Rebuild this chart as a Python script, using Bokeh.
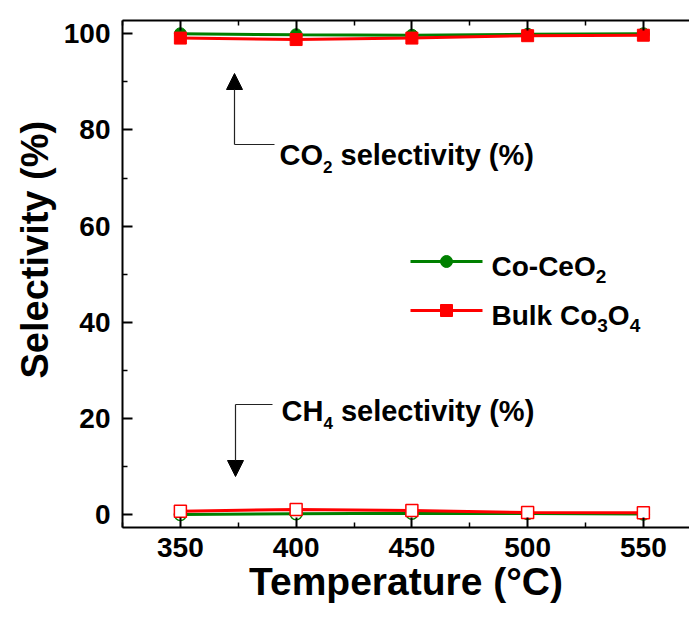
from bokeh.plotting import figure
from bokeh.models import Range1d, LinearAxis, Label, Arrow, NormalHead, FixedTicker, Title
from bokeh.embed import file_html
from bokeh.resources import INLINE

# ---------------- data ----------------
temperature = [350, 400, 450, 500, 550]
co_ceo2_co2 = [100.0, 99.8, 99.7, 99.9, 100.0]
bulk_co3o4_co2 = [99.1, 98.8, 99.1, 99.6, 99.7]
co_ceo2_ch4 = [0.05, 0.2, 0.3, 0.25, 0.15]
bulk_co3o4_ch4 = [0.75, 1.1, 0.9, 0.45, 0.4]
x_ticks = [350, 400, 450, 500, 550]
x_minor = [325, 375, 425, 475, 525, 575]
y_ticks = [0, 20, 40, 60, 80, 100]
y_minor = [10, 30, 50, 70, 90]

GREEN = "#008000"
RED = "#ff0000"
FONT = "Liberation Sans"

# ---------------- layout ----------------
W, H = 689, 620
FL, FT, FR, FB = 122, 20, 0, 93
fw = W - FL - FR
fh = H - FT - FB
SX = 2.315   # px per degree
SY = 4.81    # px per percent
X0 = 325.0
X1 = X0 + fw / SX
Y1 = 102.76
Y0 = Y1 - fh / SY
TXT_SHIFT = -9  # baseline correction for labels


def dx(px):
    return X0 + (px - FL) / SX


def dy(py):
    return Y1 - (py - FT) / SY


p = figure(width=W, height=H, x_range=Range1d(X0, X1), y_range=Range1d(Y0, Y1),
           output_backend="svg", toolbar_location=None,
           min_border_left=FL, min_border_right=FR, min_border_top=FT, min_border_bottom=FB)
p.grid.visible = False
p.outline_line_color = None
p.background_fill_color = "white"
p.border_fill_color = "white"

xb = p.xaxis[0]
yl = p.yaxis[0]
xb.ticker = FixedTicker(ticks=x_ticks, minor_ticks=x_minor)
yl.ticker = FixedTicker(ticks=y_ticks, minor_ticks=y_minor)

top = LinearAxis(ticker=FixedTicker(ticks=x_ticks, minor_ticks=x_minor))
top.major_label_overrides = {t: "" for t in x_ticks}
top.major_label_text_font_size = "8px"
top.major_label_standoff = 0
p.add_layout(top, "above")

for ax in [xb, yl, top]:
    ax.axis_line_width = 2
    ax.axis_line_color = "black"
    ax.major_tick_in = 10
    ax.major_tick_out = 0
    ax.minor_tick_in = 5
    ax.minor_tick_out = 0
    ax.major_tick_line_width = 2
    ax.minor_tick_line_width = 1.5
    ax.major_tick_line_color = "black"
    ax.minor_tick_line_color = "black"

for ax in [xb, yl]:
    ax.major_label_text_font = FONT
    ax.major_label_text_font_style = "bold"
    ax.major_label_text_font_size = "28px"
    ax.major_label_text_color = "black"
yl.major_label_standoff = 12
xb.major_label_standoff = 10

xb.axis_label = "Temperature (°C)"
xb.axis_label_text_font = FONT
xb.axis_label_text_font_style = "bold"
xb.axis_label_text_font_size = "39px"
xb.axis_label_text_color = "black"
xb.axis_label_standoff = 0

p.add_layout(Title(text="Selectivity (%)", align="left", offset=149, standoff=10,
                   text_font=FONT, text_font_style="bold", text_font_size="38px",
                   text_color="black"), "left")

# ---------------- series ----------------
p.line(temperature, co_ceo2_co2, line_color=GREEN, line_width=3)
p.scatter(temperature, co_ceo2_co2, marker="circle", size=12, fill_color=GREEN, line_color=GREEN)
p.line(temperature, co_ceo2_ch4, line_color=GREEN, line_width=3)
p.scatter(temperature, co_ceo2_ch4, marker="circle", size=12, fill_color="white", line_color=GREEN, line_width=1.5)

p.line(temperature, bulk_co3o4_co2, line_color=RED, line_width=3)
p.scatter(temperature, bulk_co3o4_co2, marker="square", size=12, fill_color=RED, line_color=RED)
p.line(temperature, bulk_co3o4_ch4, line_color=RED, line_width=3)
p.scatter(temperature, bulk_co3o4_ch4, marker="square", size=12, fill_color="white", line_color=RED, line_width=1.5)

# ---------------- text helpers ----------------
ARIAL = {' ': 278, '(': 333, ')': 333, '%': 889, '-': 333, 'B': 722, 'C': 722, 'H': 722,
         'O': 778, 'S': 667, 'T': 611, 'a': 556, 'c': 556, 'e': 556, 'i': 278, 'k': 556,
         'l': 278, 'm': 889, 'o': 611, 'p': 611, 'r': 389, 's': 556, 't': 333, 'u': 611,
         'v': 556, 'y': 556}


def tw(s, size):
    return sum(ARIAL.get(ch, 556) for ch in s) * size / 1000.0


def rich(parts, x_px, base_px):
    for t, s, sh in parts:
        lead = len(t) - len(t.lstrip(" "))
        x_px += tw(" " * lead, s)
        t2 = t.strip(" ")
        p.add_layout(Label(x=dx(x_px), y=dy(base_px + sh + TXT_SHIFT), text=t2,
                           text_font=FONT, text_font_style="bold", text_font_size=f"{s}px",
                           text_color="black", text_align="left", text_baseline="alphabetic"))
        x_px += tw(t.lstrip(" "), s)


# annotations
rich([("CO", 29, 0), ("2", 17, 12), (" selectivity (%)", 29, 0)], 279, 163)
rich([("CH", 29, 0), ("4", 17, 12), (" selectivity (%)", 29, 0)], 281, 419)

p.add_layout(Arrow(end=None, x_start=dx(234), y_start=dy(144), x_end=dx(274), y_end=dy(144),
                   line_color="#222222", line_width=1.2))
p.add_layout(Arrow(end=NormalHead(size=16, fill_color="black", line_color="black"),
                   x_start=dx(234), y_start=dy(144), x_end=dx(234), y_end=dy(73),
                   line_color="#222222", line_width=1.2))
p.add_layout(Arrow(end=None, x_start=dx(235), y_start=dy(404), x_end=dx(272), y_end=dy(404),
                   line_color="#222222", line_width=1.2))
p.add_layout(Arrow(end=NormalHead(size=16, fill_color="black", line_color="black"),
                   x_start=dx(235), y_start=dy(404), x_end=dx(235), y_end=dy(476),
                   line_color="#222222", line_width=1.2))

# legend (manual)
p.line([dx(410), dx(482)], [dy(261), dy(261)], line_color=GREEN, line_width=3)
p.scatter([dx(446)], [dy(261)], marker="circle", size=12, fill_color=GREEN, line_color=GREEN)
p.line([dx(410), dx(482)], [dy(310), dy(310)], line_color=RED, line_width=3)
p.scatter([dx(446)], [dy(310)], marker="square", size=12, fill_color=RED, line_color=RED)
rich([("Co-CeO", 28, 0), ("2", 19, 10)], 491, 275)
rich([("Bulk Co", 28, 0), ("3", 19, 10), ("O", 28, 0), ("4", 19, 10)], 491, 324)

open("out.html", "w").write(file_html(p, INLINE))
